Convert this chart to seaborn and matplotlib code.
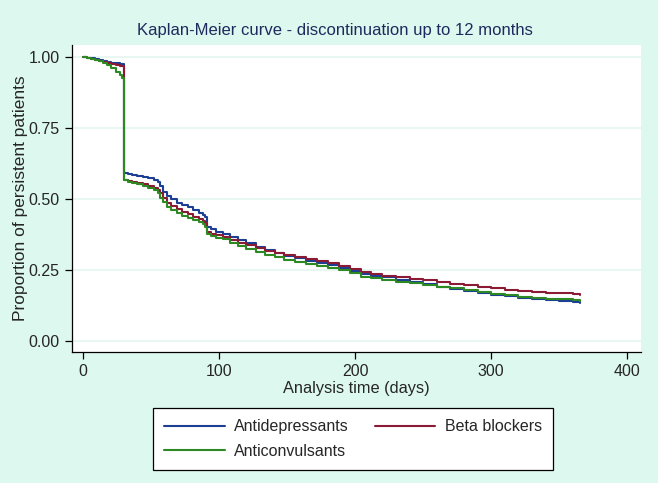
import numpy as np
import pandas as pd
import matplotlib
matplotlib.use("Agg")
import matplotlib.pyplot as plt
import seaborn as sns

sns.set_style("white")
plt.rcParams['font.family'] = ['Liberation Sans', 'DejaVu Sans']

# Kaplan-Meier estimates (days, proportion persistent)
time_antidep = [0, 3, 6, 9, 12, 15, 18, 21, 24, 27, 30, 33, 36, 40, 44, 48, 52, 55, 57, 59,
                62, 65, 69, 73, 77, 81, 85, 88, 90, 91, 94, 98, 103, 108, 114, 120, 127, 134,
                141, 148, 156, 164, 172, 180, 188, 196, 204, 212, 220, 230, 240, 250, 260,
                270, 280, 290, 300, 310, 320, 330, 340, 350, 360, 365]
surv_antidep = [1.0, 0.997, 0.995, 0.992, 0.99, 0.986, 0.983, 0.98, 0.977, 0.974, 0.59, 0.587,
                0.584, 0.58, 0.577, 0.573, 0.568, 0.56, 0.545, 0.525, 0.51, 0.5, 0.487, 0.478,
                0.47, 0.461, 0.452, 0.445, 0.438, 0.402, 0.395, 0.385, 0.376, 0.367, 0.355,
                0.344, 0.332, 0.32, 0.308, 0.299, 0.291, 0.283, 0.276, 0.268, 0.258, 0.247,
                0.236, 0.23, 0.224, 0.216, 0.209, 0.199, 0.191, 0.184, 0.177, 0.169, 0.163,
                0.157, 0.152, 0.148, 0.145, 0.142, 0.138, 0.135]

time_beta = [0, 3, 6, 9, 12, 15, 18, 21, 24, 27, 30, 33, 36, 40, 44, 48, 52, 55, 57, 59,
             62, 65, 69, 73, 77, 81, 85, 88, 90, 91, 94, 98, 103, 108, 114, 120, 127, 134,
             141, 148, 156, 164, 172, 180, 188, 196, 204, 212, 220, 230, 240, 250, 260,
             270, 280, 290, 300, 310, 320, 330, 340, 350, 360, 365]
surv_beta = [1.0, 0.997, 0.994, 0.99, 0.987, 0.983, 0.979, 0.976, 0.972, 0.969, 0.567, 0.564,
             0.561, 0.557, 0.552, 0.546, 0.539, 0.53, 0.52, 0.505, 0.485, 0.475, 0.464, 0.455,
             0.446, 0.438, 0.43, 0.422, 0.414, 0.385, 0.378, 0.372, 0.366, 0.356, 0.346,
             0.337, 0.327, 0.318, 0.31, 0.303, 0.296, 0.289, 0.281, 0.273, 0.264, 0.255,
             0.242, 0.236, 0.23, 0.225, 0.219, 0.213, 0.207, 0.201, 0.196, 0.19, 0.185,
             0.18, 0.176, 0.172, 0.169, 0.167, 0.164, 0.162]

time_anticonv = [0, 3, 6, 9, 12, 15, 18, 21, 24, 27, 29, 30, 33, 36, 40, 44, 48, 52, 55, 57,
                 59, 62, 65, 69, 73, 77, 81, 85, 88, 90, 91, 94, 98, 103, 108, 114, 120, 127,
                 134, 141, 148, 156, 164, 172, 180, 188, 196, 204, 212, 220, 230, 240, 250,
                 260, 270, 280, 290, 300, 310, 320, 330, 340, 350, 360, 365]
surv_anticonv = [1.0, 0.997, 0.993, 0.99, 0.987, 0.98, 0.972, 0.96, 0.948, 0.937, 0.925, 0.565,
                 0.561, 0.557, 0.552, 0.546, 0.54, 0.53, 0.52, 0.505, 0.49, 0.473, 0.462,
                 0.449, 0.44, 0.432, 0.426, 0.418, 0.41, 0.402, 0.377, 0.37, 0.364, 0.358,
                 0.346, 0.334, 0.323, 0.313, 0.303, 0.294, 0.285, 0.277, 0.27, 0.263, 0.256,
                 0.248, 0.24, 0.226, 0.22, 0.215, 0.209, 0.203, 0.197, 0.19, 0.185, 0.18,
                 0.173, 0.165, 0.16, 0.156, 0.152, 0.149, 0.147, 0.144, 0.142]

groups = ["Antidepressants", "Beta blockers", "Anticonvulsants"]
colors = {"Antidepressants": "#1c3f94", "Beta blockers": "#8b1a35",
          "Anticonvulsants": "#2d8a22"}

df = pd.concat([
    pd.DataFrame({"time": time_antidep, "surv": surv_antidep, "group": groups[0]}),
    pd.DataFrame({"time": time_beta, "surv": surv_beta, "group": groups[1]}),
    pd.DataFrame({"time": time_anticonv, "surv": surv_anticonv, "group": groups[2]}),
])

bg = "#ddf8ee"
fig = plt.figure(figsize=(6.58, 4.83), dpi=100, facecolor=bg)
ax = fig.add_axes([72/658, 1 - 352/483, (641-72)/658, (352-45)/483])
ax.set_facecolor("white")

sns.lineplot(data=df, x="time", y="surv", hue="group", hue_order=groups,
             palette=colors, estimator=None, sort=False, drawstyle="steps-post",
             linewidth=1.5, ax=ax, legend=False)

ax.set_xlim(-8, 410)
ax.set_ylim(-0.039, 1.042)
ax.set_xticks([0, 100, 200, 300, 400])
ax.set_yticks([0, 0.25, 0.5, 0.75, 1.0])
ax.set_yticklabels(["0.00", "0.25", "0.50", "0.75", "1.00"])
ax.yaxis.grid(True, color="#e4f6ef", linewidth=1.2)
ax.xaxis.grid(False)
for side in ["top", "right"]:
    ax.spines[side].set_visible(False)
for side in ["left", "bottom"]:
    ax.spines[side].set_color("black")
    ax.spines[side].set_linewidth(0.9)
ax.tick_params(axis="both", which="major", direction="out", length=5, width=0.9,
               color="black", labelsize=11.5, left=True, bottom=True, pad=4)

ax.set_xlabel("Analysis time (days)", fontsize=11.8, labelpad=1)
ax.set_ylabel("Proportion of persistent patients", fontsize=12.5, labelpad=0)
fig.suptitle("Kaplan-Meier curve - discontinuation up to 12 months",
             x=0.509, y=1 - 30/483, fontsize=12, color="#1e2a5e", va="center")

# legend, Stata style: 2 columns, row-wise order
handles = {g: plt.Line2D([], [], color=colors[g], linewidth=1.5) for g in groups}
order = ["Antidepressants", "Anticonvulsants", "Beta blockers"]
leg = fig.legend([handles[g] for g in order], order, ncol=2, loc="upper left",
                 bbox_to_anchor=(153/658, 1 - 408/483), borderaxespad=0,
                 fontsize=11.5, frameon=True, fancybox=False, edgecolor="black",
                 framealpha=1, handlelength=3.8, handletextpad=0.6, columnspacing=1.6,
                 labelspacing=0.6, borderpad=0.7)
leg.get_frame().set_linewidth(0.9)
leg.get_frame().set_facecolor("white")

fig.savefig("out.png", dpi=100, facecolor=bg)
